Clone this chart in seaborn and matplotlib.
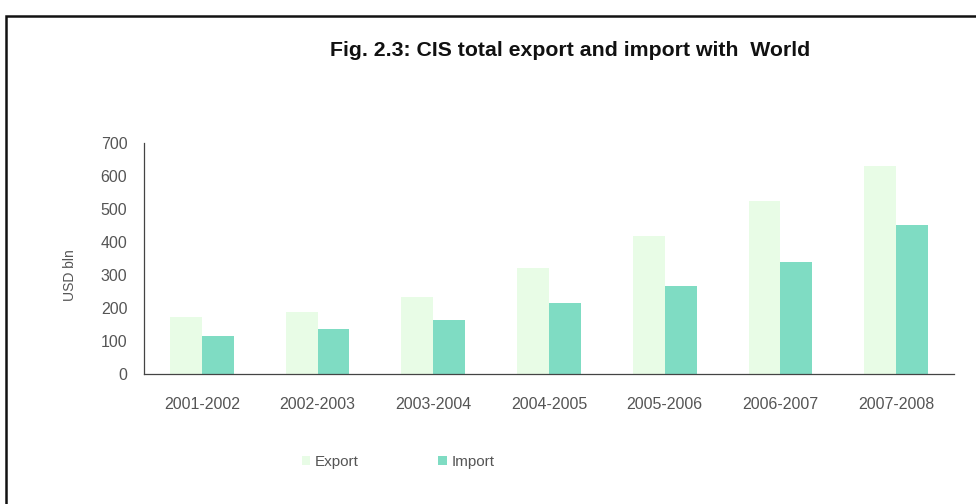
import matplotlib
matplotlib.use("Agg")
import matplotlib.pyplot as plt
from matplotlib.patches import Rectangle
from matplotlib.ticker import FixedLocator
import seaborn as sns
import pandas as pd

periods = ["2001-2002", "2002-2003", "2003-2004", "2004-2005",
           "2005-2006", "2006-2007", "2007-2008"]
export_values = [173, 188, 233, 321, 418, 524, 630]
import_values = [115, 136, 164, 215, 267, 339, 451]
series_names = ["Export", "Import"]
series_colors = ["#e8fce6", "#7fdcc3"]
y_ticks = [0, 100, 200, 300, 400, 500, 600, 700]

df = pd.DataFrame({
    "period": periods * 2,
    "value": export_values + import_values,
    "series": [series_names[0]] * len(periods) + [series_names[1]] * len(periods),
})

sns.set_style("white")
plt.rcParams["font.family"] = ["Liberation Sans", "DejaVu Sans"]

fig = plt.figure(figsize=(9.76, 5.04), dpi=100)
ax = fig.add_axes([144 / 976, 1 - 374 / 504, (954 - 144) / 976, (374 - 143) / 504])

sns.barplot(data=df, x="period", y="value", hue="series",
            palette=series_colors, width=0.55, gap=0, saturation=1,
            edgecolor="none", linewidth=0, ax=ax, legend=False)

ax.set_xlim(-0.5, len(periods) - 0.5)
ax.set_ylim(0, 700)
ax.set_yticks(y_ticks)
ax.set_xlabel("")
ax.set_ylabel("")
fig.text(70 / 976, 1 - 275 / 504, "USD bln", rotation=90, ha="center", va="center",
         color="#555555", fontsize=10)

for side in ["top", "right"]:
    ax.spines[side].set_visible(False)
for side in ["left", "bottom"]:
    ax.spines[side].set_color("#444444")
    ax.spines[side].set_linewidth(0.9)

# category boundaries carry the x tick marks
ax.xaxis.set_minor_locator(FixedLocator([i + 0.5 for i in range(-1, len(periods))]))
ax.tick_params(axis="x", which="major", length=0, pad=16.5, labelsize=11.5, labelcolor="#555555")
ax.tick_params(axis="x", which="minor", length=5, width=0.8, color="#444444", direction="out")
ax.tick_params(axis="y", length=5, width=0.8, color="#444444", direction="out",
               pad=7, labelsize=11.5, labelcolor="#555555")

fig.text(570 / 976, 1 - 50 / 504, "Fig. 2.3: CIS total export and import with  World",
         ha="center", va="center", fontsize=15.3, fontweight="bold", color="#111111")

handles = [Rectangle((0, 0), 1, 1, facecolor=c, edgecolor="none") for c in series_colors]
fig.legend(handles, series_names, loc="center", bbox_to_anchor=(398 / 976, 1 - 462 / 504),
           ncol=2, frameon=False, fontsize=11, labelcolor="#555555",
           handlelength=0.55, handleheight=0.55, handletextpad=0.3, columnspacing=5.2)

# outer frame around the chart area
fig.patches.append(Rectangle((6 / 976, -0.05), 1.1, 1 - 16 / 504 + 0.05,
                             transform=fig.transFigure, fill=False,
                             edgecolor="#111111", linewidth=1.8))

fig.savefig("out.png", dpi=100, facecolor="white")
